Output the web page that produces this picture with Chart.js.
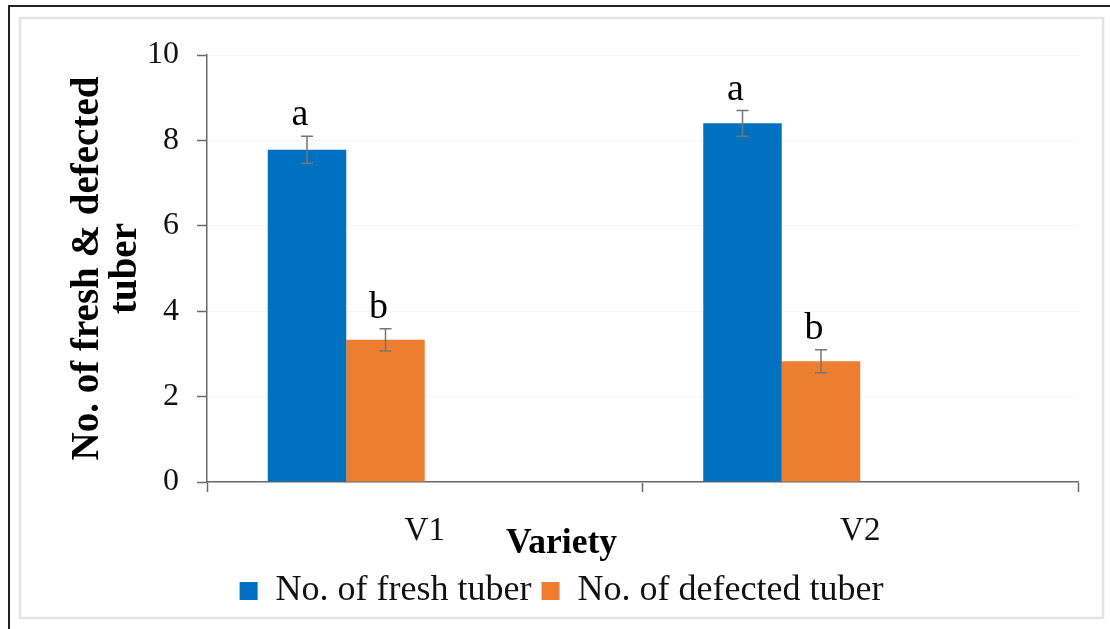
<!DOCTYPE html>
<html>
<head>
<meta charset="utf-8">
<script src="https://cdn.jsdelivr.net/npm/chart.js@4.4.1/dist/chart.umd.min.js"></script>
<style>
html,body{margin:0;padding:0;background:#fff;}
#wrap{position:relative;width:1110px;height:629px;}
canvas{display:block;}
</style>
</head>
<body>
<div id="wrap"><canvas id="c" width="1110" height="629"></canvas></div>
<script>
// ---- data ----
const categories = ['V1', 'V2'];
const freshValues = [7.78, 8.40];
const defectedValues = [3.33, 2.83];
const freshErrors = [0.32, 0.30];
const defectedErrors = [0.26, 0.27];
const freshLetters = ['a', 'a'];
const defectedLetters = ['b', 'b'];
const seriesNames = ['No. of fresh tuber', 'No. of defected tuber'];
const yTickValues = [0, 2, 4, 6, 8, 10];
const yTitleLines = ['No. of fresh & defected', 'tuber'];
const xTitle = 'Variety';

const SERIF = "'Liberation Serif', 'Times New Roman', serif";
const BLUE = '#0070C0';
const ORANGE = '#ED7D31';

const errorPlugin = {
  id: 'errorBars',
  afterDatasetsDraw(chart) {
    const ctx = chart.ctx;
    const y = chart.scales.y;
    const sets = [
      {meta: chart.getDatasetMeta(0), vals: freshValues, errs: freshErrors, letters: freshLetters},
      {meta: chart.getDatasetMeta(1), vals: defectedValues, errs: defectedErrors, letters: defectedLetters}
    ];
    ctx.save();
    sets.forEach(s => {
      s.meta.data.forEach((bar, j) => {
        const x = bar.x;
        const yTop = y.getPixelForValue(s.vals[j] + s.errs[j]);
        const yBot = y.getPixelForValue(s.vals[j] - s.errs[j]);
        ctx.strokeStyle = '#767676';
        ctx.lineWidth = 1.5;
        ctx.beginPath();
        ctx.moveTo(x, yTop); ctx.lineTo(x, yBot);
        ctx.moveTo(x - 6, yTop); ctx.lineTo(x + 6, yTop);
        ctx.moveTo(x - 6, yBot); ctx.lineTo(x + 6, yBot);
        ctx.stroke();
        ctx.fillStyle = '#000';
        ctx.font = '38px ' + SERIF;
        ctx.textAlign = 'center';
        ctx.textBaseline = 'alphabetic';
        ctx.fillText(s.letters[j], x - 7, yTop - 11);
      });
    });
    ctx.restore();
  }
};

const framePlugin = {
  id: 'frame',
  beforeDraw(chart) {
    const ctx = chart.ctx;
    ctx.save();
    ctx.fillStyle = '#fff';
    ctx.fillRect(0, 0, chart.width, chart.height);
    ctx.strokeStyle = '#222';
    ctx.lineWidth = 2;
    ctx.beginPath();
    ctx.moveTo(9, 640); ctx.lineTo(9, 6); ctx.lineTo(1120, 6);
    ctx.stroke();
    ctx.strokeStyle = '#e3e3e3';
    ctx.lineWidth = 2.5;
    ctx.strokeRect(20, 18, 1083, 600);
    ctx.restore();
  }
};

new Chart(document.getElementById('c'), {
  type: 'bar',
  data: {
    labels: categories,
    datasets: [
      {label: seriesNames[0], data: freshValues, backgroundColor: BLUE, borderWidth: 0},
      {label: seriesNames[1], data: defectedValues, backgroundColor: ORANGE, borderWidth: 0},
      {label: '', data: [null, null], backgroundColor: 'rgba(0,0,0,0)'},
      {label: '', data: [null, null], backgroundColor: 'rgba(0,0,0,0)'}
    ]
  },
  options: {
    responsive: false,
    animation: false,
    devicePixelRatio: 1,
    layout: {padding: {left: 45, right: 32, top: 55, bottom: 10}},
    datasets: {bar: {categoryPercentage: 0.721, barPercentage: 1.0}},
    scales: {
      x: {
        grid: {display: true, drawOnChartArea: false, tickLength: 10, tickColor: '#6a6a6a', tickWidth: 1.5},
        border: {color: '#6a6a6a', width: 1.5},
        ticks: {color: '#111', font: {family: SERIF, size: 33}, padding: 20},
        afterFit(s) { s.height = 66; }
      },
      y: {
        min: 0, max: 10,
        afterBuildTicks(s) { s.ticks = yTickValues.map(v => ({value: v})); },
        grid: {color: '#f6f6f6', tickLength: 10, tickColor: '#6a6a6a', tickWidth: 1.5},
        border: {color: '#6a6a6a', width: 1.5},
        ticks: {color: '#111', font: {family: SERIF, size: 32}, padding: 18},
        title: {display: true, text: yTitleLines, color: '#000',
          font: {family: SERIF, size: 39, weight: 'bold', lineHeight: 0.975},
          padding: {top: 24, bottom: 0}},
        afterFit(s) { s.width = 162; }
      }
    },
    plugins: {
      legend: {
        position: 'bottom',
        labels: {
          color: '#111',
          font: {family: SERIF, size: 36},
          boxWidth: 18, boxHeight: 18, padding: 10,
          filter: item => item.text !== ''
        }
      },
      title: {
        display: true, position: 'bottom', text: xTitle, weight: 500,
        color: '#000', font: {family: SERIF, size: 35.5, weight: 'bold', lineHeight: 1.2},
        padding: {top: -25.8, bottom: -1.8}
      },
      tooltip: {enabled: false}
    }
  },
  plugins: [framePlugin, errorPlugin]
});
</script>
</body>
</html>
